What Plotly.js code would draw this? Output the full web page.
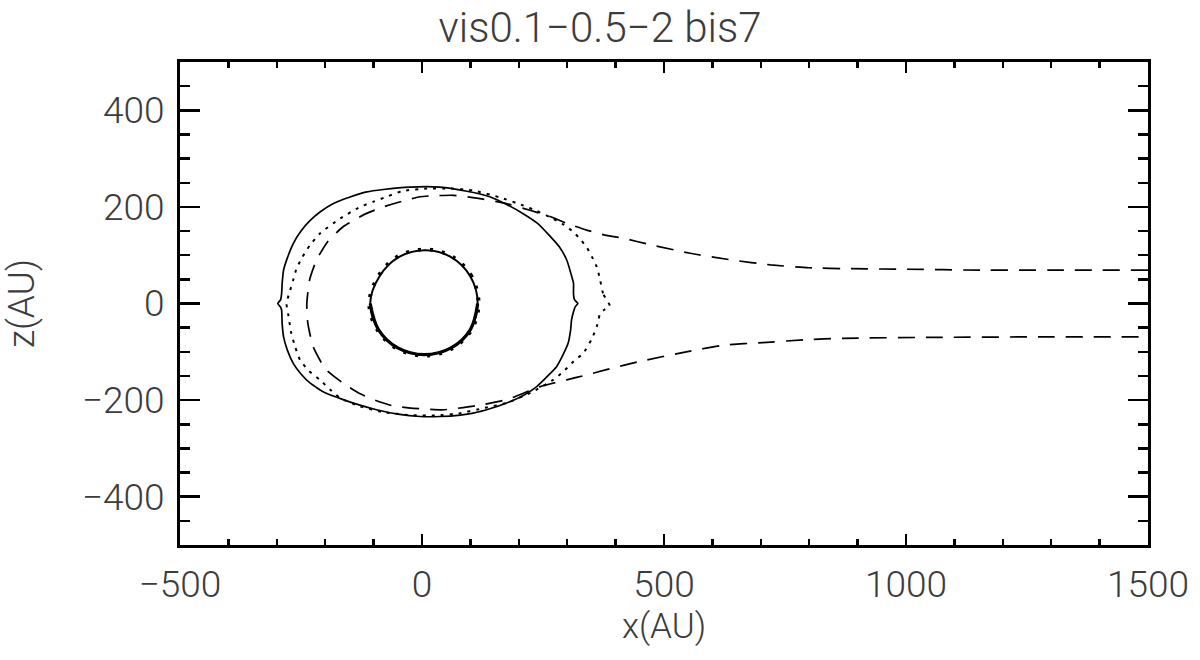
<!DOCTYPE html>
<html><head><meta charset="utf-8">
<script src="https://cdn.plot.ly/plotly-3.0.1.min.js"></script>
<style>html,body{margin:0;padding:0;background:#fff}#plot{width:1200px;height:660px}</style>
</head><body><div id="plot"></div>
<script>
// Solid outer boundary (closed)
const solidX = [322, 315, 313, 313, 306, 299, 284, 264, 240, 209, 175, 140, 90, 37, -25, -80, -114, -150, -183, -210, -231, -250, -266, -278, -286, -289, -290, -292, -298,
                -292, -290, -289, -286, -278, -266, -250, -231, -200, -163, -130, -94, -50, -4, 37, 79, 106, 140, 175, 210, 237, 260, 278, 292, 302, 307, 309, 313, 317, 322];
const solidZ = [0, 8, 20, 42, 68, 90, 117, 140, 165, 186, 205, 221, 233, 241, 241, 236, 231, 220, 207, 190, 172, 150, 124, 95, 69, 40, 21, 8, 0,
                -8, -14, -40, -69, -97, -124, -146, -165, -185, -199, -210, -220, -229, -234, -234, -231, -227, -218, -206, -190, -172, -150, -131, -105, -82, -55, -34, -17, -6, 0];
// Dotted outer boundary (closed)
const dotX = [388, 374, 368, 361, 351, 340, 327, 313, 290, 264, 236, 209, 160, 106, 60, 10, -40, -73, -100, -128, -169, -211, -232, -249, -260, -266, -274, -280,
              -276, -270, -262, -252, -233, -211, -190, -169, -128, -80, -25, 30, 79, 130, 175, 230, 271, 292, 313, 333, 350, 361, 365, 368, 378, 388];
const dotZ = [-5, 21, 49, 76, 97, 117, 133, 148, 165, 179, 192, 203, 220, 234, 238, 238, 233, 221, 211, 200, 176, 145, 120, 93, 70, 49, 22, 0,
              -25, -62, -90, -117, -140, -158, -178, -196, -213, -225, -231, -232, -227, -216, -206, -182, -158, -141, -120, -103, -75, -48, -32, -20, -12, -5];
// Dashed boundary with tail (open)
const dashX = [1500, 1300, 1155, 997, 886, 799, 720, 641, 554, 475, 416, 381, 340, 299, 265, 223, 170, 120, 65, 20, -4, -40, -80, -120, -163, -195, -218, -232, -238,
               -236, -225, -200, -163, -130, -100, -60, -18, 44, 110, 175, 244, 299, 340, 381, 450, 546, 625, 704, 791, 870, 1075, 1300, 1500];
const dashZ = [69, 69, 69, 71, 72, 74, 80, 90, 104, 121, 135, 141, 152, 166, 180, 193, 208, 217, 224, 223, 221, 212, 200, 184, 159, 128, 90, 50, 0,
               -40, -89, -135, -165, -186, -199, -212, -217, -220, -212, -199, -172, -158, -148, -137, -120, -100, -86, -81, -75, -72, -70, -69, -69];
// Inner boundary (circle)
const innerX = [115, 100, 60, 8, -48, -88, -107, -90, -50, 5, 60, 100, 115];
const innerZ = [0, 56, 96, 110, 96, 56, 0, -54, -92, -106, -92, -54, 0];
const innerDotX = [117, 102, 61, 8, -49, -90, -109, -92, -51, 5, 61, 102, 117];
const innerDotZ = [0, 57, 98, 112, 98, 57, 0, -55, -94, -108, -94, -55, 0];
const innerLowX = [-107, -90, -50, 5, 60, 100, 115];
const innerLowZ = [0, -54, -92, -106, -92, -54, 0];

const ink = '#000';
const traces = [
  {x: solidX, y: solidZ, mode: 'lines', line: {color: ink, width: 1.7, shape: 'spline', smoothing: 0.5}},
  {x: dotX, y: dotZ, mode: 'lines', line: {color: ink, width: 2, dash: '3px,6px', shape: 'spline', smoothing: 0.5}},
  {x: dashX, y: dashZ, mode: 'lines', line: {color: ink, width: 1.7, dash: '17px,11px', shape: 'spline', smoothing: 0.5}},
  {x: innerX, y: innerZ, mode: 'lines', line: {color: ink, width: 2, shape: 'spline', smoothing: 1}},
  {x: innerLowX, y: innerLowZ, mode: 'lines', line: {color: ink, width: 3.2, shape: 'spline', smoothing: 1}},
  {x: innerDotX, y: innerDotZ, mode: 'lines', line: {color: ink, width: 3.8, dash: '3px,9px', shape: 'spline', smoothing: 1}}
];

const fam = 'Roboto, Liberation Sans, Arial, sans-serif';
const txt = '#3c3c3c';
const tickFont = {family: fam, size: 37, color: txt, weight: 300};
const layout = {
  width: 1200, height: 660,
  margin: {l: 180, r: 52, t: 62, b: 115},
  paper_bgcolor: '#fff', plot_bgcolor: '#fff',
  showlegend: false,
  title: {text: 'vis0.1\u22120.5\u22122 bis7', x: 0.5, xanchor: 'center', y: 0.958, yanchor: 'middle',
          font: {family: fam, size: 42, color: txt, weight: 300}},
  xaxis: {
    range: [-500, 1500], dtick: 500, tick0: 0, showgrid: false, zeroline: false,
    showline: true, linewidth: 3, linecolor: ink, mirror: 'allticks',
    ticks: 'inside', ticklen: 11, tickwidth: 2.5, tickcolor: ink,
    minor: {dtick: 100, ticks: 'inside', ticklen: 6, tickwidth: 2.5, tickcolor: ink, showgrid: false},
    tickfont: tickFont, ticklabelstandoff: 5,
    title: {text: 'x(AU)', font: {family: fam, size: 35, color: txt, weight: 300}, standoff: 4}
  },
  yaxis: {
    range: [-500, 500], dtick: 200, tick0: 0, showgrid: false, zeroline: false,
    showline: true, linewidth: 3, linecolor: ink, mirror: 'allticks',
    ticks: 'inside', ticklen: 20, tickwidth: 2.5, tickcolor: ink,
    minor: {dtick: 50, ticks: 'inside', ticklen: 10, tickwidth: 2.5, tickcolor: ink, showgrid: false},
    tickfont: tickFont, ticklabelstandoff: 5,
    title: {text: 'z(AU)', font: {family: fam, size: 37, color: txt, weight: 300}, standoff: 36}
  }
};
Plotly.newPlot('plot', traces, layout, {displayModeBar: false, staticPlot: true});
</script>
</body></html>
